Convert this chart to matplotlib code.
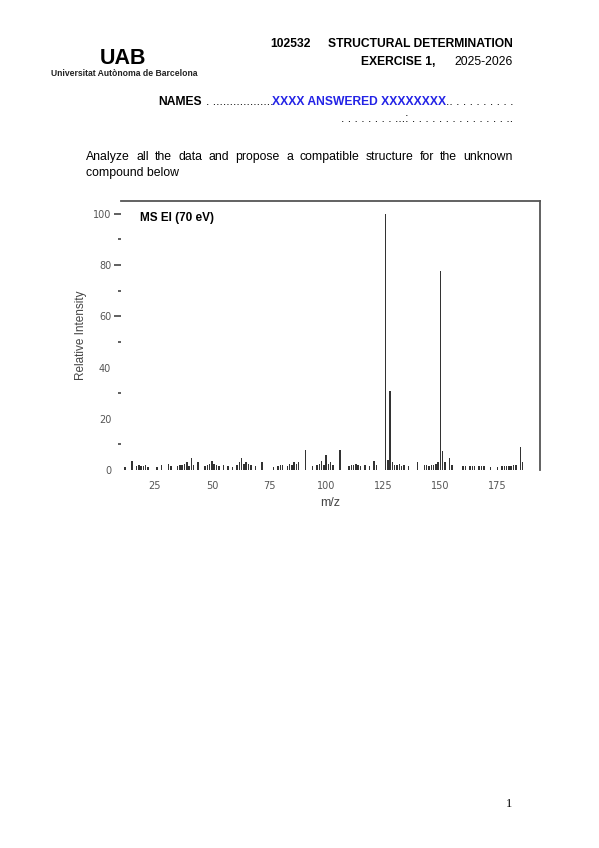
import matplotlib
matplotlib.use('Agg')
import matplotlib.pyplot as plt
from matplotlib.ticker import MultipleLocator

# EI mass spectrum (m/z, relative intensity %)
mz_values = [12, 15, 17, 18, 19, 20, 21, 22, 26, 28, 31, 32, 35, 36, 37, 38, 39, 40,
             41, 42, 44, 47, 48, 49, 50, 51, 52, 53, 55, 57, 59, 61, 62, 63, 64, 65,
             66, 67, 69, 72, 77, 79, 80, 81, 83, 84, 85, 86, 87, 88, 91, 94, 96, 97,
             98, 99, 100, 101, 102, 103, 106, 110, 111, 112, 113, 114, 115, 117, 119,
             121, 122, 126, 127, 128, 129, 130, 131, 132, 133, 134, 136, 140, 143,
             144, 145, 146, 147, 148, 149, 150, 151, 152, 154, 155, 160, 161, 163,
             164, 165, 167, 168, 169, 172, 175, 177, 178, 179, 180, 181, 182, 183,
             185, 186]
rel_intensity = [1.0, 3.5, 1.5, 1.8, 1.5, 1.5, 1.8, 1.2, 1.2, 2.0, 2.5, 1.5, 1.5, 1.8,
                 2.0, 2.5, 3.0, 1.5, 4.5, 2.0, 3.0, 1.5, 2.0, 2.5, 3.5, 2.5, 2.0, 1.5,
                 2.0, 1.5, 1.2, 2.0, 3.0, 4.5, 2.5, 3.0, 2.5, 2.0, 1.5, 3.0, 1.0, 1.5,
                 2.0, 2.0, 1.5, 2.5, 2.0, 3.0, 2.5, 3.0, 8.0, 1.5, 2.0, 2.5, 3.5, 2.0,
                 6.0, 2.5, 3.0, 2.0, 8.0, 1.5, 2.0, 2.0, 2.5, 2.0, 1.5, 2.0, 1.5, 3.5,
                 2.0, 100.0, 4.0, 31.0, 3.0, 2.0, 2.0, 2.5, 1.5, 2.0, 1.5, 3.0, 2.0,
                 2.0, 1.5, 2.0, 2.0, 2.5, 3.0, 77.5, 7.5, 3.0, 4.5, 2.0, 1.5, 1.5, 1.5,
                 1.5, 1.5, 1.5, 1.5, 1.5, 1.2, 1.2, 1.5, 1.5, 1.5, 1.5, 1.5, 2.0, 2.0,
                 9.0, 3.0]

x_ticks = [25, 50, 75, 100, 125, 150, 175]
y_ticks = [0, 20, 40, 60, 80, 100]

paragraph_line1 = "Analyze all the data and propose a compatible structure for the unknown"
paragraph_line2 = "compound below"

W, H = 599, 848
SANS = 'Liberation Sans'
HEAD = 8.7


def fx(x):
    return x / W


def fy(y):
    return 1 - y / H


fig = plt.figure(figsize=(W / 100, H / 100), dpi=100)
fig.patch.set_facecolor('white')

# header
fig.text(fx(123), fy(58), 'UAB', fontsize=15.5, fontweight='bold', family=SANS,
         ha='center', va='center')
fig.text(fx(124), fy(73), 'Universitat Autònoma de Barcelona', fontsize=6.2,
         fontweight='bold', family=SANS, ha='center', va='center', color='#222222')
fig.text(fx(270), fy(44), '102532', fontsize=HEAD, fontweight='bold', family=SANS,
         va='center')
fig.text(fx(513), fy(44), 'STRUCTURAL DETERMINATION', fontsize=HEAD, fontweight='bold',
         family=SANS, ha='right', va='center')
fig.text(fx(361), fy(62), 'EXERCISE 1,', fontsize=HEAD, fontweight='bold', family=SANS,
         va='center')
fig.text(fx(513), fy(62), '2025-2026', fontsize=HEAD, family=SANS, ha='right',
         va='center')

# names line
fig.text(fx(158), fy(102), 'NAMES', fontsize=HEAD, fontweight='bold', family=SANS,
         va='center')
fig.text(fx(206), fy(102), '. ..................', fontsize=HEAD, family=SANS,
         va='center')
fig.text(fx(272), fy(102), 'XXXX ANSWERED XXXXXXXX', fontsize=HEAD, fontweight='bold',
         family=SANS, va='center', color='#2323e6')
fig.text(fx(513), fy(102), '.. . . . . . . . . .', fontsize=HEAD, family=SANS,
         ha='right', va='center')
fig.text(fx(513), fy(119), '. . . . . . . . ...: . . . . . . . . . . . . . . ..',
         fontsize=HEAD, family=SANS, ha='right', va='center')

# justified paragraph
renderer = fig.canvas.get_renderer()
words = paragraph_line1.split()
word_texts = [fig.text(0, fy(157), w, fontsize=8.8, family=SANS, va='center')
              for w in words]
widths = [t.get_window_extent(renderer).width for t in word_texts]
gap = (513 - 86 - sum(widths)) / (len(words) - 1)
x = 86
for t, w in zip(word_texts, widths):
    t.set_x(fx(x))
    x += w + gap
fig.text(fx(86), fy(173), paragraph_line2, fontsize=8.8, family=SANS, va='center')

# spectrum
ax = fig.add_axes([fx(121), fy(470), (540 - 121) / W, (470 - 201) / H])
ax.bar(mz_values, rel_intensity, width=0.65, color='#333333', linewidth=0)
ax.set_xlim(10.2, 193.6)
ax.set_ylim(0, 105)

for side in ['left', 'bottom']:
    ax.spines[side].set_visible(False)
for side in ['top', 'right']:
    ax.spines[side].set_color('#555555')
    ax.spines[side].set_linewidth(1.3)

ax.set_xticks(x_ticks)
ax.set_yticks(y_ticks)
ax.yaxis.set_minor_locator(MultipleLocator(10))
ax.tick_params(axis='x', length=0, pad=8, labelsize=7, labelcolor='#555555')
ax.tick_params(axis='y', which='major', length=5, width=1.2, color='#444444',
               pad=2, labelsize=7, labelcolor='#555555')
ax.tick_params(axis='y', which='minor', length=2.2, width=1.2, color='#444444')
for tick, val in zip(ax.yaxis.get_major_ticks(), y_ticks):
    if val < 60:
        tick.tick1line.set_visible(False)

fig.text(fx(81), fy(335), 'Relative Intensity', rotation=90, fontsize=8.5,
         family=SANS, ha='center', va='center', color='#444444')
fig.text(fx(330), fy(503), 'm/z', fontsize=9, family=SANS, ha='center', va='center',
         color='#444444')
ax.text(0.045, 0.935, 'MS EI (70 eV)', transform=ax.transAxes, fontsize=8.5,
        fontweight='bold', family=SANS, va='center')

# page number
fig.text(fx(509), fy(804), '1', fontsize=9, family='Liberation Serif', ha='center',
         va='center')

fig.savefig('out.png', dpi=100)
